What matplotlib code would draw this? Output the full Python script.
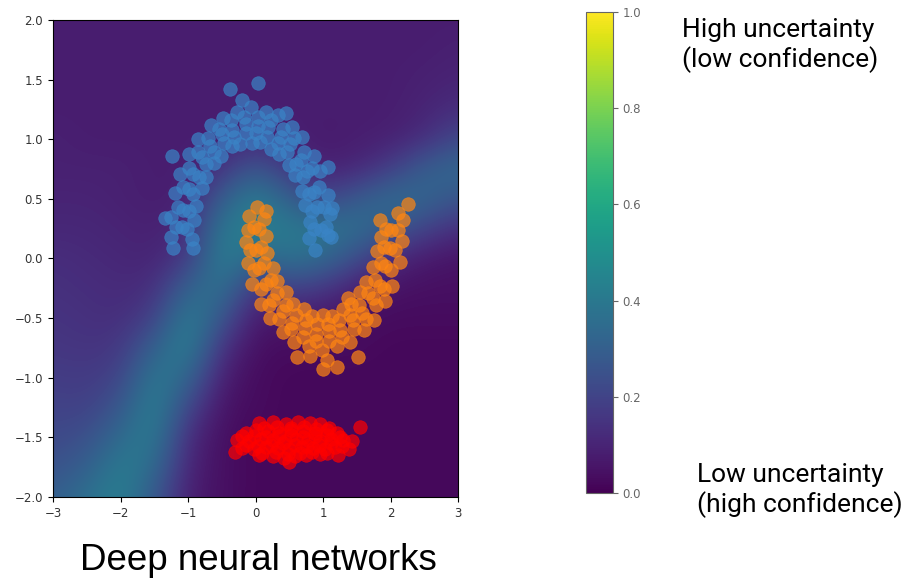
import numpy as np
import matplotlib.pyplot as plt

# uncertainty grid: x = -3..3 step 0.5, rows y = 2.0 .. -2.0 step 0.25
grid_x = [-3.0, -2.5, -2.0, -1.5, -1.0, -0.5, 0.0, 0.5, 1.0, 1.5, 2.0, 2.5, 3.0]
grid_y = [2.0, 1.75, 1.5, 1.25, 1.0, 0.75, 0.5, 0.25, 0.0, -0.25, -0.5, -0.75,
          -1.0, -1.25, -1.5, -1.75, -2.0]
uncertainty = [
    [.08, .08, .08, .08, .08, .08, .08, .08, .08, .08, .08, .08, .08],
    [.08, .08, .08, .08, .08, .08, .08, .08, .08, .08, .08, .08, .09],
    [.08, .08, .08, .08, .08, .08, .08, .08, .08, .08, .08, .09, .10],
    [.08, .08, .08, .08, .08, .08, .08, .08, .08, .08, .08, .10, .13],
    [.09, .08, .08, .08, .08, .08, .12, .09, .07, .08, .09, .13, .22],
    [.09, .09, .09, .08, .08, .15, .28, .15, .09, .11, .18, .30, .34],
    [.10, .10, .09, .08, .09, .30, .43, .30, .20, .28, .36, .33, .26],
    [.11, .11, .10, .09, .12, .41, .42, .41, .38, .37, .28, .20, .13],
    [.13, .12, .11, .10, .17, .44, .33, .38, .35, .23, .12, .07, .05],
    [.14, .13, .12, .13, .32, .38, .14, .20, .16, .08, .05, .04, .04],
    [.15, .14, .13, .19, .43, .27, .06, .07, .06, .04, .03, .03, .03],
    [.16, .15, .16, .31, .44, .14, .04, .03, .03, .03, .02, .02, .02],
    [.18, .17, .20, .41, .33, .08, .03, .02, .02, .02, .02, .02, .02],
    [.20, .19, .27, .44, .21, .05, .03, .02, .02, .02, .02, .02, .02],
    [.22, .24, .35, .42, .12, .04, .02, .02, .02, .02, .02, .02, .02],
    [.25, .30, .42, .35, .10, .04, .02, .02, .02, .02, .02, .02, .02],
    [.30, .37, .43, .28, .08, .04, .02, .02, .02, .02, .02, .02, .02],
]

# upper moon (blue)
blue_pts = [
    (0.79, 0.17), (0.80, 0.31), (0.73, 0.45), (0.69, 0.57), (0.58, 0.70), (0.49, 0.78),
    (0.35, 0.88), (0.23, 0.92), (0.07, 0.98), (-0.06, 0.97), (-0.23, 0.96), (-0.35, 0.94),
    (-0.51, 0.86), (-0.61, 0.80), (-0.74, 0.68), (-0.80, 0.59), (-0.89, 0.44), (-0.91, 0.32),
    (-0.94, 0.16),
    (0.87, 0.25), (0.84, 0.40), (0.79, 0.54), (0.70, 0.68), (0.60, 0.79), (0.47, 0.89),
    (0.33, 0.97), (0.17, 1.02), (0.01, 1.05), (-0.15, 1.05), (-0.32, 1.02), (-0.47, 0.97),
    (-0.61, 0.89), (-0.74, 0.79), (-0.84, 0.68), (-0.93, 0.54), (-0.98, 0.40), (-1.01, 0.25),
    (0.97, 0.24), (0.91, 0.43), (0.87, 0.56), (0.76, 0.73), (0.67, 0.83), (0.51, 0.96),
    (0.38, 1.02), (0.19, 1.10), (0.03, 1.11), (-0.15, 1.13), (-0.35, 1.08), (-0.50, 1.04),
    (-0.67, 0.94), (-0.79, 0.85), (-0.92, 0.71), (-0.99, 0.58), (-1.08, 0.41), (-1.09, 0.26),
    (1.04, 0.26), (1.01, 0.43), (0.94, 0.60), (0.84, 0.76), (0.72, 0.89), (0.57, 1.01),
    (0.40, 1.09), (0.22, 1.16), (0.03, 1.19), (-0.17, 1.19), (-0.36, 1.16), (-0.54, 1.09),
    (-0.71, 1.01), (-0.86, 0.89), (-0.98, 0.76), (-1.08, 0.60), (-1.15, 0.43), (-1.18, 0.26),
    (1.12, 0.18), (1.10, 0.37), (1.07, 0.53), (0.96, 0.73), (0.86, 0.86), (0.69, 1.02),
    (0.54, 1.10), (0.33, 1.20), (0.15, 1.23), (-0.07, 1.27), (-0.27, 1.23), (-0.49, 1.18),
    (-0.66, 1.12), (-0.85, 1.00), (-0.98, 0.88), (-1.12, 0.71), (-1.19, 0.55), (-1.26, 0.35),
    (-1.26, 0.18),
    (0.04, 1.47), (-0.38, 1.42), (-1.24, 0.86), (1.07, 0.77), (1.13, 0.42), (-1.34, 0.34),
    (-1.22, 0.09), (-0.93, 0.09), (0.88, 0.07), (1.07, 0.20), (-0.20, 1.33), (0.45, 1.22),
]

# lower moon (orange)
orange_pts = [
    (0.13, 0.33), (0.15, 0.19), (0.17, 0.05), (0.26, -0.08), (0.32, -0.19), (0.45, -0.28),
    (0.55, -0.38), (0.71, -0.42), (0.83, -0.48), (1.00, -0.47), (1.13, -0.48), (1.29, -0.42),
    (1.41, -0.38), (1.55, -0.28), (1.64, -0.20), (1.74, -0.07), (1.79, 0.06), (1.85, 0.18),
    (1.84, 0.32),
    (0.05, 0.25), (0.08, 0.10), (0.13, -0.04), (0.22, -0.18), (0.32, -0.29), (0.45, -0.39),
    (0.59, -0.47), (0.75, -0.52), (0.91, -0.55), (1.07, -0.55), (1.24, -0.52), (1.39, -0.47),
    (1.53, -0.39), (1.66, -0.29), (1.76, -0.18), (1.85, -0.04), (1.90, 0.10), (1.93, 0.25),
    (-0.03, 0.26), (0.00, 0.07), (0.05, -0.08), (0.16, -0.21), (0.25, -0.35), (0.41, -0.44),
    (0.54, -0.54), (0.73, -0.58), (0.89, -0.63), (1.09, -0.61), (1.25, -0.60), (1.44, -0.52),
    (1.57, -0.46), (1.73, -0.33), (1.84, -0.23), (1.91, -0.06), (1.99, 0.09), (2.01, 0.24),
    (-0.12, 0.24), (-0.09, 0.07), (-0.02, -0.10), (0.08, -0.26), (0.20, -0.39), (0.35, -0.51),
    (0.52, -0.59), (0.70, -0.66), (0.89, -0.69), (1.09, -0.69), (1.28, -0.66), (1.46, -0.59),
    (1.63, -0.51), (1.78, -0.39), (1.90, -0.26), (2.00, -0.10), (2.07, 0.07), (2.10, 0.24),
    (-0.10, 0.36), (-0.15, 0.14), (-0.12, -0.04), (-0.05, -0.21), (0.08, -0.38), (0.21, -0.50),
    (0.40, -0.62), (0.57, -0.70), (0.79, -0.73), (0.98, -0.77), (1.21, -0.73), (1.39, -0.70),
    (1.60, -0.60), (1.75, -0.52), (1.92, -0.36), (2.02, -0.23), (2.13, -0.03), (2.16, 0.15),
    (2.18, 0.32),
    (2.26, 0.46), (0.02, 0.43), (1.36, -0.33), (1.21, -0.91), (0.99, -0.93), (0.61, -0.83),
    (1.52, -0.83), (0.15, 0.40), (2.10, 0.38), (0.80, -0.82), (1.05, -0.85),
]

# out-of-distribution cluster (red)
red_pts = [
    (0.05, -1.38), (0.25, -1.37), (0.45, -1.39), (0.62, -1.37), (0.80, -1.38), (0.95, -1.39),
    (0.12, -1.42), (0.32, -1.41), (0.52, -1.42), (0.72, -1.41), (0.90, -1.43), (1.08, -1.42),
    (-0.15, -1.46), (0.00, -1.44), (0.18, -1.45), (0.35, -1.46), (0.52, -1.44), (0.70, -1.45),
    (0.88, -1.46), (1.05, -1.44), (1.20, -1.46),
    (-0.20, -1.49), (-0.02, -1.49), (0.16, -1.50), (0.34, -1.49), (0.52, -1.48), (0.70, -1.50),
    (0.88, -1.49), (1.05, -1.48), (1.25, -1.50),
    (-0.28, -1.52), (-0.10, -1.53), (0.08, -1.51), (0.26, -1.52), (0.44, -1.53), (0.60, -1.51),
    (0.78, -1.52), (0.95, -1.53), (1.12, -1.51), (1.30, -1.52),
    (-0.15, -1.56), (0.04, -1.57), (0.22, -1.56), (0.40, -1.55), (0.58, -1.56), (0.76, -1.57),
    (0.94, -1.56), (1.12, -1.55), (1.28, -1.57),
    (-0.20, -1.59), (-0.02, -1.60), (0.15, -1.58), (0.33, -1.59), (0.50, -1.60), (0.68, -1.58),
    (0.85, -1.59), (1.02, -1.60), (1.18, -1.58),
    (0.10, -1.63), (0.30, -1.62), (0.48, -1.64), (0.66, -1.63), (0.84, -1.62), (1.05, -1.63),
    (0.05, -1.65), (0.25, -1.66), (0.42, -1.67), (0.58, -1.66), (0.75, -1.65), (0.95, -1.64),
    (1.55, -1.41), (1.42, -1.53), (1.38, -1.60), (0.50, -1.71), (-0.30, -1.62), (1.22, -1.65),
]

fig = plt.figure(figsize=(9.13, 5.81), dpi=100)
ax = fig.add_axes([0.058, 0.1446, 0.444, 0.821])

dx = (grid_x[1] - grid_x[0]) / 2
dy = (grid_y[0] - grid_y[1]) / 2
im = ax.imshow(np.array(uncertainty), cmap="viridis", vmin=0, vmax=1,
               extent=[grid_x[0] - dx, grid_x[-1] + dx, grid_y[-1] - dy, grid_y[0] + dy],
               origin="upper", aspect="auto", interpolation="bicubic")

for pts, col in [(blue_pts, "#3a84c6"), (orange_pts, "#ff8612"), (red_pts, "#ff0000")]:
    p = np.array(pts)
    ax.scatter(p[:, 0], p[:, 1], s=95, color=col, alpha=0.7, linewidths=0.5)

ax.set_xlim(-3, 3)
ax.set_ylim(-2, 2)
ax.set_xticks([-3, -2, -1, 0, 1, 2, 3])
ax.set_yticks([-2.0, -1.5, -1.0, -0.5, 0.0, 0.5, 1.0, 1.5, 2.0])
ax.tick_params(labelsize=8.5, labelcolor="#333333")

# colorbar
cax = fig.add_axes([0.6418, 0.1515, 0.0296, 0.828])
cb = fig.colorbar(im, cax=cax)
cb.outline.set_edgecolor("#666666")
cb.ax.tick_params(labelsize=8.5, labelcolor="#666666", color="#666666")

fig.text(682 / 913, 1 - 18 / 581, "High uncertainty\n(low confidence)", fontsize=19,
         family="Roboto", va="top", ha="left")
fig.text(697 / 913, 1 - 463 / 581, "Low uncertainty\n(high confidence)", fontsize=19,
         family="Roboto", va="top", ha="left")
fig.text(80 / 913, 1 - 570 / 581, "Deep neural networks", fontsize=26.5,
         family="Liberation Sans", va="baseline", ha="left")

plt.savefig("out.png")
